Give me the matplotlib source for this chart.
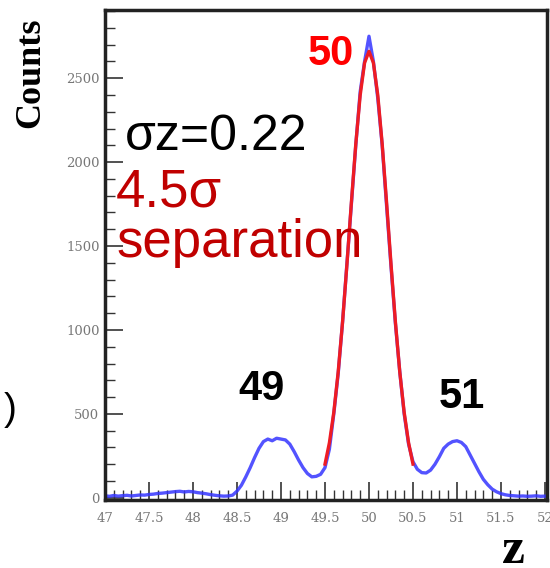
import matplotlib
matplotlib.use("Agg")
import matplotlib.pyplot as plt
import numpy as np
from matplotlib.ticker import MultipleLocator

# measured histogram (blue), bin centres every 0.05 in z
z_hist = np.round(np.arange(47.0, 52.0001, 0.05), 2)
counts = [
    12, 9, 14, 10, 13, 15, 11, 14, 17, 16,          # 47.00 - 47.45
    20, 22, 26, 28, 31, 34, 37, 39, 35, 38,         # 47.50 - 47.95
    36, 31, 28, 24, 19, 15, 12, 10, 11, 16,         # 48.00 - 48.45
    40, 75, 125, 180, 240, 295, 335, 350, 340, 355, # 48.50 - 48.95
    350, 345, 320, 275, 225, 180, 145, 125, 128, 140, # 49.00 - 49.45
    180, 290, 500, 740, 1050, 1400, 1750, 2100, 2420, 2600, # 49.50 - 49.95
    2750, 2600, 2380, 2100, 1740, 1380, 1040, 750, 500, 320, # 50.00 - 50.45
    215, 170, 150, 148, 165, 200, 245, 295, 320, 335, # 50.50 - 50.95
    340, 330, 305, 255, 205, 155, 110, 78, 52, 36,    # 51.00 - 51.45
    25, 18, 14, 12, 10, 11, 9, 10, 12, 9,             # 51.50 - 51.95
    10,                                               # 52.00
]

z_fit = np.round(np.arange(49.5, 50.5001, 0.05), 2)
fit_vals = [201, 328, 509, 750, 1050, 1395, 1760, 2108, 2399, 2592,
            2660, 2592, 2399, 2108, 1760, 1395, 1050, 750, 509, 328, 201]

x_ticks = [47, 47.5, 48, 48.5, 49, 49.5, 50, 50.5, 51, 51.5, 52]
x_tick_labels = ["47", "47.5", "48", "48.5", "49", "49.5", "50", "50.5", "51", "51.5", "52"]
y_ticks = [0, 500, 1000, 1500, 2000, 2500]

fig = plt.figure(figsize=(5.5, 5.68), dpi=100)
ax = fig.add_axes([0.191, 0.12, 0.803, 0.862])

ax.plot(z_hist, counts, color="#3535ff", lw=2.4, alpha=0.85, zorder=2)
ax.plot(z_fit, fit_vals, color="#ee1c24", lw=2.4, zorder=3)

ax.set_xlim(47, 52.02)
ax.set_ylim(-12, 2905)

ax.set_xticks(x_ticks)
ax.set_xticklabels(x_tick_labels)
ax.set_yticks(y_ticks)
ax.xaxis.set_minor_locator(MultipleLocator(0.1))
ax.yaxis.set_minor_locator(MultipleLocator(100))
ax.tick_params(which="both", direction="in", top=False, right=False,
               colors="#333333", labelcolor="#777777", labelsize=9.5)
ax.tick_params(which="major", length=13, width=1.2)
ax.tick_params(which="minor", length=7, width=1.0)
ax.tick_params(axis="x", which="major", pad=9)
ax.tick_params(axis="y", which="major", pad=4)
for lab in ax.get_xticklabels() + ax.get_yticklabels():
    lab.set_family("DejaVu Serif")
for sp in ax.spines.values():
    sp.set_linewidth(2.5)
    sp.set_color("#222222")

# peak labels
ax.text(49.83, 2580, "50", color="#ff0000", fontsize=30, fontweight="bold",
        family="Liberation Sans", ha="right", va="baseline")
ax.text(48.78, 585, "49", color="black", fontsize=30, fontweight="bold",
        family="Liberation Sans", ha="center", va="baseline")
ax.text(51.05, 535, "51", color="black", fontsize=30, fontweight="bold",
        family="Liberation Sans", ha="center", va="baseline")

# annotations
fig.text(125 / 550, 1 - 150 / 568, "σz=0.22", color="black", fontsize=36,
         family="Liberation Sans", ha="left", va="baseline")
fig.text(116 / 550, 1 - 206 / 568, "4.5σ", color="#c00000", fontsize=38,
         family="Liberation Sans", ha="left", va="baseline")
fig.text(116 / 550, 1 - 257 / 568, "separation", color="#c00000", fontsize=38,
         family="Liberation Sans", ha="left", va="baseline")

fig.text(31 / 550, 1 - 73 / 568, "Counts", rotation=90, fontsize=26,
         fontweight="bold", family="Liberation Serif", ha="center", va="center")
fig.text(513 / 550, 1 - 563 / 568, "z", fontsize=37, fontweight="bold",
         family="Liberation Serif", ha="center", va="baseline")
fig.text(10 / 550, 1 - 410 / 568, ")", fontsize=28, family="Liberation Sans",
         ha="center", va="center")

fig.savefig("out.png", dpi=100)
